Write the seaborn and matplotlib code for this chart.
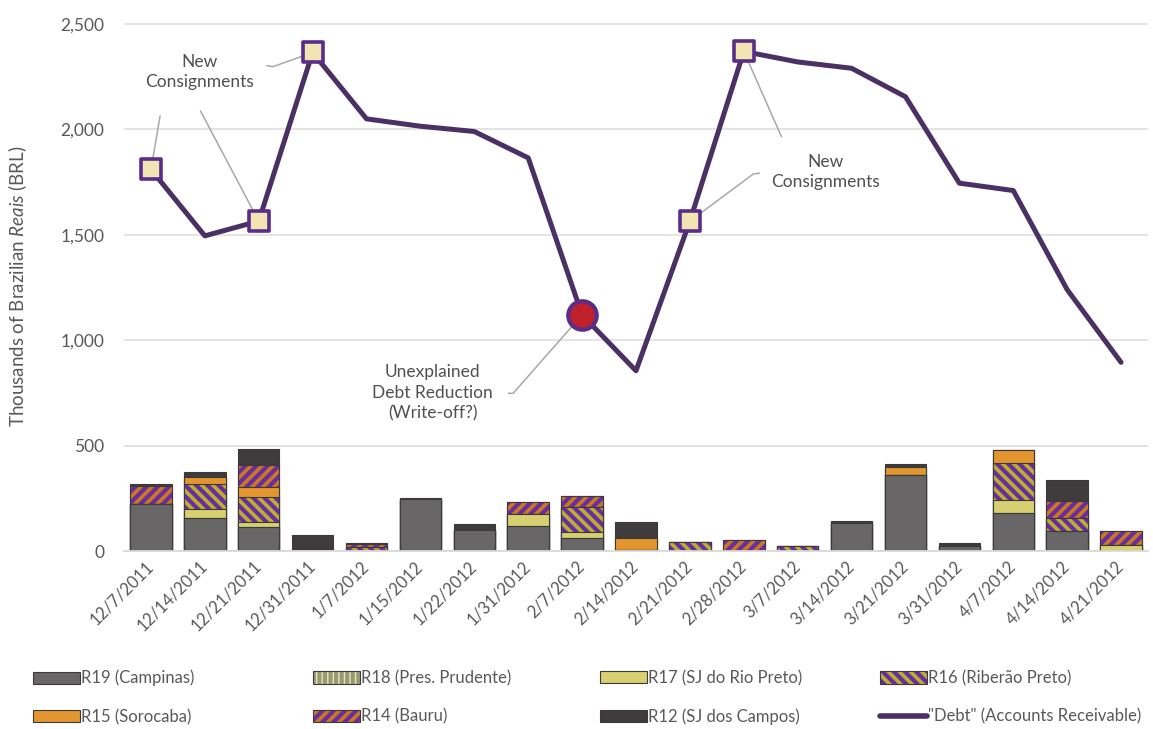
import numpy as np
import matplotlib.pyplot as plt
import matplotlib.colors as mcolors
from matplotlib.patches import Patch
from matplotlib.lines import Line2D
import seaborn as sns

# data (thousands of BRL)
dates = ['12/7/2011', '12/14/2011', '12/21/2011', '12/31/2011', '1/7/2012',
         '1/15/2012', '1/22/2012', '1/31/2012', '2/7/2012', '2/14/2012',
         '2/21/2012', '2/28/2012', '3/7/2012', '3/14/2012', '3/21/2012',
         '3/31/2012', '4/7/2012', '4/14/2012', '4/21/2012']
debt = [1810, 1495, 1565, 2365, 2050, 2015, 1990, 1865, 1120, 855,
        1565, 2370, 2320, 2290, 2155, 1745, 1710, 1240, 895]
r19 = [225, 158, 116, 0, 0, 248, 100, 120, 60, 5, 0, 0, 0, 132, 362, 24, 180, 97, 0]
r18 = [0, 0, 0, 0, 0, 0, 0, 0, 0, 0, 0, 0, 0, 0, 0, 0, 0, 0, 0]
r17 = [0, 40, 22, 0, 0, 0, 0, 54, 29, 0, 0, 0, 0, 0, 0, 0, 60, 0, 30]
r16 = [0, 120, 120, 0, 19, 0, 0, 0, 119, 0, 42, 0, 24, 0, 0, 0, 178, 59, 0]
r15 = [0, 32, 44, 10, 0, 0, 0, 0, 0, 55, 0, 0, 0, 0, 35, 0, 59, 0, 0]
r14 = [85, 0, 106, 0, 14, 0, 0, 60, 54, 0, 0, 50, 0, 0, 0, 0, 0, 83, 65]
r12 = [10, 27, 76, 65, 5, 5, 29, 0, 0, 78, 0, 0, 0, 10, 16, 13, 0, 100, 0]
consign_idx = [0, 2, 3, 10, 11]
writeoff_idx = [8]

TXT = '#595959'
PURPLE = '#6a2ca0'
OUTLINE = '#3a3a3a'

# name, values, face, hatch, hatch colour (bottom to top)
layers = [
    ('R19 (Campinas)', r19, '#686666', None, None),
    ('R18 (Pres. Prudente)', r18, '#e4e4c6', '|||', '#9a9a70'),
    ('R17 (SJ do Rio Preto)', r17, '#d6d070', None, None),
    ('R16 (Riberão Preto)', r16, '#b9b12e', '\\\\\\', PURPLE),
    ('R15 (Sorocaba)', r15, '#e3952f', None, None),
    ('R14 (Bauru)', r14, '#c77b1e', '///', PURPLE),
    ('R12 (SJ dos Campos)', r12, '#403c3d', None, None),
]

sns.set_style('white')
plt.rcParams['font.family'] = ['Lato', 'DejaVu Sans']
plt.rcParams['mathtext.fontset'] = 'custom'
plt.rcParams['mathtext.rm'] = 'Lato'
plt.rcParams['mathtext.it'] = 'Lato:italic'
plt.rcParams['hatch.linewidth'] = 3

W, H = 1153, 729
fig = plt.figure(figsize=(W / 100, H / 100), dpi=100)
top_px = 24 - 10 * (527 / 2500)
ax = fig.add_axes([124 / W, 1 - 551 / H, (1148 - 124) / W, (551 - top_px) / H])


def set_hatch_color(p, c):
    if c is None:
        return
    if hasattr(p, 'set_hatchcolor'):
        p.set_hatchcolor(c)
    else:
        p._hatch_color = mcolors.to_rgba(c)


# stacked bars: draw cumulative totals from the top layer down
cum = np.cumsum(np.array([l[1] for l in layers]), axis=0)
for i in reversed(range(len(layers))):
    name, vals, face, hatch, hc = layers[i]
    n0 = len(ax.patches)
    sns.barplot(x=dates, y=cum[i], color=face, saturation=1, width=0.77,
                errorbar=None, hatch=hatch, edgecolor=OUTLINE, linewidth=0.8,
                ax=ax, zorder=2)
    for p in ax.patches[n0:]:
        set_hatch_color(p, hc)

# debt line + highlighted points
xs = np.arange(len(dates))
sns.lineplot(x=xs, y=debt, color='#4b3163', linewidth=3.6, ax=ax, zorder=4)
sns.scatterplot(x=xs[consign_idx], y=[debt[i] for i in consign_idx], marker='s',
                s=190, color='#f3e4b4', edgecolor='#5a2d8a', linewidth=2.6,
                ax=ax, zorder=6, legend=False)
sns.scatterplot(x=xs[writeoff_idx], y=[debt[i] for i in writeoff_idx], marker='o',
                s=420, color='#c0202a', edgecolor='#5a2d8a', linewidth=3,
                ax=ax, zorder=6, legend=False)

# annotations
LN = dict(color='#a8a8a8', lw=1.1, zorder=5)
ANN = dict(ha='center', va='center', fontsize=12.5, color='#505050', linespacing=1.35)
ax.text(0.91, 2272, 'New\nConsignments', **ANN)
ax.plot([0.17, 0], [2064, debt[0]], **LN)
ax.plot([0.92, 2], [2087, debt[2]], **LN)
ax.plot([2.15, 2.27, 3], [2302, 2298, debt[3]], **LN)
ax.text(12.52, 1798, 'New\nConsignments', **ANN)
ax.plot([11.70, 11], [1965, debt[11]], **LN)
ax.plot([11.29, 11.18, 10], [1792, 1789, debt[10]], **LN)
ax.text(5.23, 750, 'Unexplained\nDebt Reduction\n(Write-off?)', **ANN)
ax.plot([6.63, 6.72, 8], [748, 748, debt[8]], **LN)

# axes styling
ax.set_xlim(-0.5, len(dates) - 0.5)
ax.set_ylim(0, 2510)
ax.set_yticks(range(0, 2501, 500))
ax.set_yticklabels([f'{v:,}' for v in range(0, 2501, 500)])
ax.yaxis.grid(True, color='#e2e2e2', lw=1.3)
ax.set_axisbelow(True)
sns.despine(ax=ax, left=True)
ax.spines['bottom'].set_color('#d9d9d9')
ax.spines['bottom'].set_linewidth(1.3)
ax.set_xticks(xs)
ax.set_xticks(np.arange(-0.5, len(dates), 1), minor=True)
ax.tick_params(axis='x', which='major', length=0, pad=9, labelsize=12, labelcolor=TXT)
ax.tick_params(axis='x', which='minor', length=6, width=1.2, color='#d9d9d9')
ax.tick_params(axis='y', length=0, pad=14, labelsize=12.5, labelcolor=TXT)
plt.setp(ax.get_xticklabels(), rotation=45, ha='right', va='center', rotation_mode='anchor')
ax.set_xlabel('')
ax.set_ylabel('Thousands of Brazilian $\\it{Reais}$ (BRL)', fontsize=13.5, color=TXT)
ax.yaxis.set_label_coords((29 - 124) / 1024, 0.5)

# legend: four columns placed by hand, filled row-wise like the original
handles = {}
for name, vals, face, hatch, hc in layers:
    h = Patch(facecolor=face, edgecolor=OUTLINE, linewidth=0.8, hatch=hatch)
    set_hatch_color(h, hc)
    handles[name] = h
debt_label = '"Debt" (Accounts Receivable)'
handles[debt_label] = Line2D([], [], color='#4b3163', lw=4)
columns = [
    (33, ['R19 (Campinas)', 'R15 (Sorocaba)']),
    (313, ['R18 (Pres. Prudente)', 'R14 (Bauru)']),
    (600, ['R17 (SJ do Rio Preto)', 'R12 (SJ dos Campos)']),
    (880, ['R16 (Riberão Preto)', debt_label]),
]
for x0, names in columns:
    leg = fig.legend([handles[n] for n in names], names, loc='center left',
                     bbox_to_anchor=(x0 / W, 1 - 697.5 / H), frameon=False,
                     fontsize=12, borderpad=0, borderaxespad=0,
                     handlelength=2.8, handleheight=0.75, handletextpad=0.1,
                     labelspacing=1.35, labelcolor=TXT)

fig.savefig('out.png', dpi=100)
